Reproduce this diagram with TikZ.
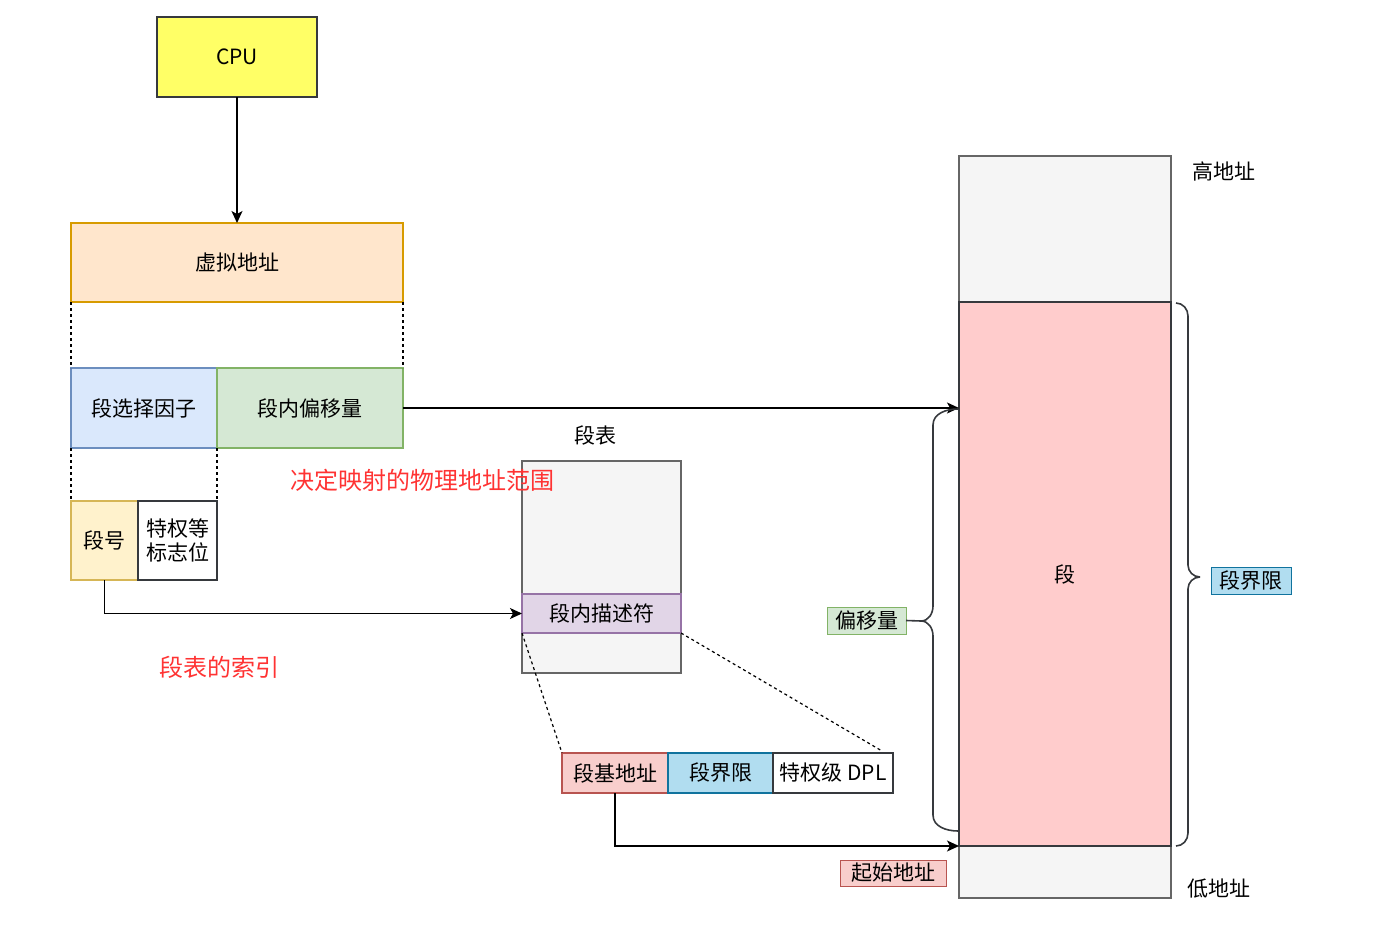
\documentclass[tikz,border=0pt]{standalone}
\usepackage{fontspec}
\setmainfont{Noto Sans CJK SC}
\usetikzlibrary{arrows.meta,calc}
\definecolor{cpuY}{HTML}{FFFF66}
\definecolor{vaF}{HTML}{FFE6CC}\definecolor{vaS}{HTML}{D79B00}
\definecolor{blF}{HTML}{DAE8FC}\definecolor{blS}{HTML}{6C8EBF}
\definecolor{grF}{HTML}{D5E8D4}\definecolor{grS}{HTML}{82B366}
\definecolor{yeF}{HTML}{FFF2CC}\definecolor{yeS}{HTML}{D6B656}
\definecolor{gyF}{HTML}{F5F5F5}\definecolor{gyS}{HTML}{666666}
\definecolor{puF}{HTML}{E1D5E7}\definecolor{puS}{HTML}{9673A6}
\definecolor{rdF}{HTML}{F8CECC}\definecolor{rdS}{HTML}{B85450}
\definecolor{cyF}{HTML}{B1DDF0}\definecolor{cyS}{HTML}{10739E}
\definecolor{segF}{HTML}{FFCCCC}\definecolor{segS}{HTML}{36393D}
\definecolor{redT}{HTML}{FF3333}
\tikzset{
  bx/.style={draw, inner sep=0pt, outer sep=0pt, line width=1.2pt, font=\fontsize{21}{25}\selectfont, align=center},
  lbl/.style={inner sep=0pt, font=\fontsize{21}{25}\selectfont},
  redlbl/.style={inner sep=0pt, text=redT, font=\fontsize{24}{28}\selectfont},
  arr/.style={line width=1.3pt, draw=black, -{Stealth[length=12pt,width=11pt,inset=3pt,fill=black]}},
  dsh/.style={line width=1.2pt, dash pattern=on 3pt off 3pt},
  brc/.style={line width=1.6pt, draw=segS}
}
\begin{document}
\begin{tikzpicture}[x=1pt,y=-1pt]
\useasboundingbox (0,0) rectangle (1393,926);
% left column
\node[bx, fill=cpuY, draw=segS, minimum width=160, minimum height=80] (cpu) at (237,57) {CPU};
\node[bx, fill=vaF, draw=vaS, minimum width=332, minimum height=79] (va) at (237,262.5) {虚拟地址};
\node[bx, fill=blF, draw=blS, minimum width=146, minimum height=80] (sel) at (144,408) {段选择因子};
\node[bx, fill=grF, draw=grS, minimum width=186, minimum height=80] (off) at (310,408) {段内偏移量};
\node[bx, fill=yeF, draw=yeS, minimum width=67, minimum height=79] (num) at (104.5,540.5) {段号};
\node[bx, fill=white, draw=segS, minimum width=79, minimum height=79, font=\fontsize{21}{24}\selectfont] (flag) at (177.5,540.5) {特权等\\标志位};
% segment table
\node[lbl] (tbllbl) at (595,435) {段表};
\node[bx, fill=gyF, draw=gyS, minimum width=159, minimum height=212] (tbl) at (601.5,567) {};
\node[bx, fill=puF, draw=puS, minimum width=159, minimum height=39] (desc) at (601.5,613.5) {段内描述符};
% descriptor fields
\node[bx, fill=rdF, draw=rdS, minimum width=106, minimum height=40] (base) at (615,773) {段基地址};
\node[bx, fill=cyF, draw=cyS, minimum width=105, minimum height=40] (lim) at (720.5,773) {段界限};
\node[bx, fill=white, draw=segS, minimum width=120, minimum height=40] (dpl) at (833,773) {特权级 DPL};
% memory
\node[bx, fill=gyF, draw=gyS, minimum width=212, minimum height=146] (memtop) at (1065,229) {};
\node[bx, fill=gyF, draw=gyS, minimum width=212, minimum height=52] (membot) at (1065,872) {};
\node[bx, fill=segF, draw=segS, minimum width=212, minimum height=544] (seg) at (1065,574) {段};
\node[lbl] (hi) at (1224,171) {高地址};
\node[lbl] (lo) at (1219,889) {低地址};
% labels
\node[redlbl] (rng) at (422,480) {决定映射的物理地址范围};
\node[redlbl] (idx) at (219,667) {段表的索引};
\node[bx, fill=grF, draw=grS, line width=0.9pt, minimum width=79, minimum height=27] (offl) at (866.5,620.5) {偏移量};
\node[bx, fill=cyF, draw=cyS, line width=0.9pt, minimum width=80, minimum height=27] (liml) at (1251,580.5) {段界限};
\node[bx, fill=rdF, draw=rdS, line width=0.9pt, minimum width=106, minimum height=26] (startl) at (893,873) {起始地址};
% dashed guides
\draw[dsh] (va.south west) -- (sel.north west);
\draw[dsh] (va.south east) -- (off.north east);
\draw[dsh] (sel.south west) -- (num.north west);
\draw[dsh] (sel.south east) -- (flag.north east);
\coordinate (dplend) at ($(dpl.north east)+(-11,-2)$);
\draw[dsh] (desc.south west) -- (base.north west);
\draw[dsh] (desc.south east) -- (dplend);
% arrows
\draw[arr] (cpu.south) -- (va.north);
\draw[arr] (off.east) -- (off.east -| seg.west);
\draw[arr] (num.south) |- (desc.west);
\draw[arr] (base.south) |- (seg.south west);
% braces
\coordinate (lbt) at (958,409);
\coordinate (lbb) at (958,831);
\draw[brc] (lbt) to[out=180,in=90] (933,425) -- (933,606) to[out=-90,in=0] (921,621) -- (offl.east);
\draw[brc] (lbb) to[out=180,in=-90] (933,815) -- (933,636) to[out=90,in=0] (921,621);
\coordinate (rbt) at (1176,303);
\coordinate (rbb) at (1176,846);
\draw[brc] (rbt) to[out=0,in=90] (1188,316) -- (1188,565) to[out=-90,in=180] (1200,577);
\draw[brc] (rbb) to[out=0,in=-90] (1188,833) -- (1188,589) to[out=90,in=180] (1200,577);
\end{tikzpicture}
\end{document}
